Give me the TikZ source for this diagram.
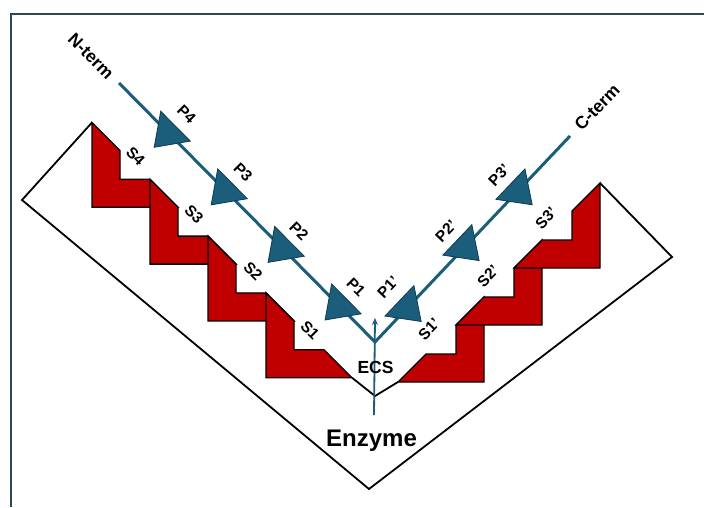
\documentclass[tikz,border=0pt]{standalone}
\usepackage{fontspec}
\setmainfont{Liberation Sans}
\usetikzlibrary{arrows.meta}
\definecolor{pepblue}{RGB}{27,94,124}
\definecolor{pepedge}{RGB}{16,58,80}
\definecolor{pocketred}{RGB}{192,0,0}
\definecolor{framecol}{RGB}{47,70,86}
\begin{document}
\begin{tikzpicture}[x=1pt,y=-1pt,
  framestyle/.style={draw=framecol,line width=2pt},
  enzstyle/.style={draw=black,line width=1.8pt,line join=miter},
  pocketstyle/.style={draw=black,fill=pocketred,line width=1.3pt,line join=miter},
  chainstyle/.style={draw=pepblue,line width=3pt,line join=miter},
  tristyle/.style={draw=pepedge,fill=pepblue,line width=0.8pt,line join=miter},
  plab/.style={font=\bfseries\fontsize{15.5}{17}\selectfont,inner sep=0pt},
  tlab/.style={font=\bfseries\fontsize{17.5}{19}\selectfont,inner sep=0pt},
  lpocket/.pic={\draw[pocketstyle] (0,0) -- (28,28) -- (28,56.8) -- (58,56.8) -- (86,84.8) -- (0,84.8) -- cycle;},
  rpocket/.pic={\draw[pocketstyle] (0,0) -- (-28,28) -- (-28,57) -- (-58,57) -- (-86,85) -- (0,85) -- cycle;},
  peptri/.pic={\draw[tristyle] (-21,-10) -- (21,-10) -- (0,20) -- cycle;}
]
\useasboundingbox (0,0) rectangle (704,507);
\fill[white] (0,0) rectangle (704,507);
% frame
\draw[framestyle] (10.5,507) -- (10.5,14) -- (704,14);
% enzyme outline
\coordinate (eL) at (22,200);
\coordinate (eB) at (369,489);
\coordinate (eR) at (672,257);
\coordinate (eTL) at (92,122.5);
\coordinate (eTR) at (600,183);
\draw[enzstyle] (eTL) -- (eL) -- (eB) -- (eR) -- (eTR);
% left pockets (lower ones on top)
\pic at (92,122.5) {lpocket};
\pic at (150,179.3) {lpocket};
\pic at (208,236.1) {lpocket};
\pic at (266,292.9) {lpocket};
% right pockets (upper ones on top)
\pic at (484,297) {rpocket};
\pic at (542,240) {rpocket};
\pic at (600,183) {rpocket};
% inner V
\coordinate (vL) at (352,377.7);
\coordinate (vB) at (375,396);
\coordinate (vR) at (398,382);
\draw[enzstyle] (vL) -- (vB) -- (vR);
% peptide chain
\coordinate (nt) at (119,83);
\coordinate (jn) at (375,342);
\coordinate (ct) at (570,136);
\draw[chainstyle] (nt) -- (jn) -- (ct);
\coordinate (eb) at (374,415);
\coordinate (et) at (375,318);
\draw[draw=pepblue,line width=1.8pt,-{Stealth[length=7pt,width=6pt]}] (eb) -- (et);
% triangles
\pic[rotate=-45.3] at (168.4,133.2) {peptri};
\pic[rotate=-45.3] at (225.4,190.8) {peptri};
\pic[rotate=-45.3] at (282.3,248.3) {peptri};
\pic[rotate=-45.3] at (339.3,305.9) {peptri};
\pic[rotate=46.4] at (406.7,307.7) {peptri};
\pic[rotate=46.4] at (464.6,246.8) {peptri};
\pic[rotate=46.4] at (517.7,191) {peptri};
% labels
\node[tlab,rotate=-45] (nlab) at (91,56) {N-term};
\node[tlab,rotate=46] (clab) at (597,107) {C-term};
\node[plab,rotate=-45] (p4) at (186.5,114) {P4};
\node[plab,rotate=-45] (p3) at (243,172) {P3};
\node[plab,rotate=-45] (p2) at (299,231) {P2};
\node[plab,rotate=-45] (p1) at (356,287) {P1};
\node[plab,rotate=-45] (s4) at (135.5,156) {S4};
\node[plab,rotate=-45] (s3) at (194,214) {S3};
\node[plab,rotate=-45] (s2) at (253,271) {S2};
\node[plab,rotate=-45] (s1) at (310,330) {S1};
\node[plab,rotate=46] (p1r) at (388,287) {P1’};
\node[plab,rotate=46] (p2r) at (446,231) {P2’};
\node[plab,rotate=46] (p3r) at (499,175) {P3’};
\node[plab,rotate=46] (s1r) at (429,329) {S1’};
\node[plab,rotate=46] (s2r) at (488,276) {S2’};
\node[plab,rotate=46] (s3r) at (546,218) {S3’};
\node[tlab,anchor=base] (ecs) at (375.5,373) {ECS};
\node[font=\bfseries\fontsize{24}{26}\selectfont,inner sep=0pt,anchor=base] (enz) at (371.5,446) {Enzyme};
\end{tikzpicture}
\end{document}
